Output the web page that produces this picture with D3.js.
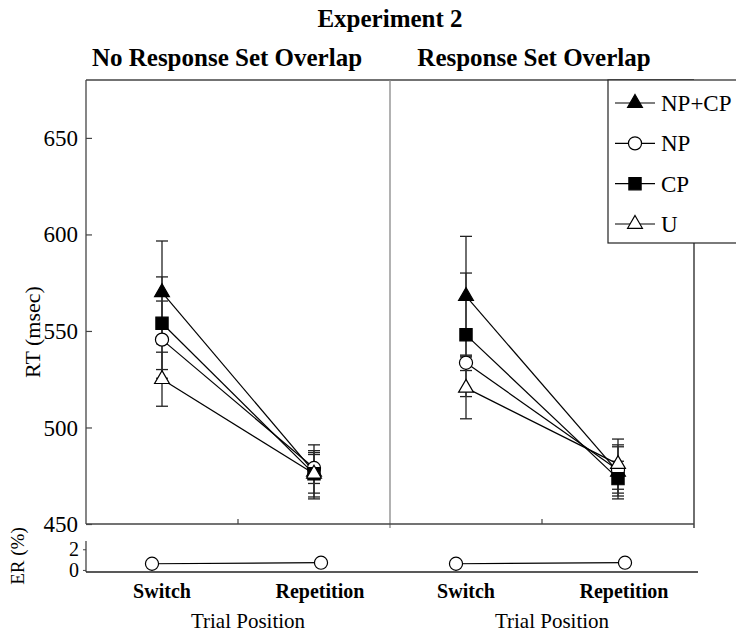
<!DOCTYPE html>
<html>
<head>
<meta charset="utf-8">
<script src="https://cdn.jsdelivr.net/npm/d3@7"></script>
<style>
  html, body { margin: 0; padding: 0; background: #fff; }
  svg { display: block; font-family: "Liberation Serif", "Times New Roman", serif; }
</style>
</head>
<body>
<svg id="chart" width="736" height="635"></svg>
<script>
// ---------- data ----------
const title = "Experiment 2";
const panelTitles = ["No Response Set Overlap", "Response Set Overlap"];
const positions = ["Switch", "Repetition"];
const seriesNames = ["NP+CP", "NP", "CP", "U"];
const seriesSymbols = ["triangle", "circle", "square", "triangle"];
const seriesFilled = [true, false, true, false];

// RT means (msec), order = seriesNames
const rtNoOverlapSwitch = [570, 545.5, 554, 525];
const rtNoOverlapRep    = [477, 479, 476, 476];
const seNoOverlapSwitch = [26.6, 20, 24, 14];
const seNoOverlapRep    = [14, 8, 12, 10];

const rtOverlapSwitch = [568, 533.5, 548, 520.5];
const rtOverlapRep    = [477, 478, 473.5, 481];
const seOverlapSwitch = [31, 4, 32, 16];
const seOverlapRep    = [14, 12, 9, 13];

// Error rates (%)
const erNoOverlap = [0.6, 0.7];
const erOverlap   = [0.6, 0.7];

const rtTicks = [450, 500, 550, 600, 650];
const erTicks = [0, 2];

// ---------- layout ----------
const svg = d3.select("#chart");
const L = 86, R = 694, T = 80, B = 524;
const mid = (L + R) / 2;
const panelW = (R - L) / 2;
const frameCol = "#444";

const y = d3.scaleLinear().domain([450, 680]).range([B, T]);
const yER = d3.scaleLinear().domain([-0.2, 2.8]).range([572, 541]);
const panelX = d3.scaleBand().domain(panelTitles).range([L, R]);
const xIn = d3.scalePoint().domain(positions).range([panelW * 0.25, panelW * 0.75]);
const xER = d3.scalePoint().domain(positions).range([66, 235]);

// titles
svg.append("text").attr("x", 390).attr("y", 27).attr("text-anchor", "middle")
  .attr("font-weight", "bold").attr("font-size", 25).text(title);
panelTitles.forEach((t, i) => {
  svg.append("text").attr("x", [227, 534][i]).attr("y", 66).attr("text-anchor", "middle")
    .attr("font-weight", "bold").attr("font-size", 25).text(t);
});

// frame
svg.append("line").attr("x1", L).attr("x2", R).attr("y1", T).attr("y2", T)
  .attr("stroke", frameCol).attr("stroke-width", 1.3);
svg.append("line").attr("x1", R).attr("x2", R).attr("y1", T).attr("y2", B + 4)
  .attr("stroke", "#222").attr("stroke-width", 1.3);
svg.append("line").attr("x1", mid).attr("x2", mid).attr("y1", T).attr("y2", B + 4)
  .attr("stroke", "#888").attr("stroke-width", 1.3);
svg.append("line").attr("x1", L).attr("x2", R).attr("y1", B).attr("y2", B)
  .attr("stroke", frameCol).attr("stroke-width", 1.5);
// bottom inner ticks at panel middles
panelTitles.forEach(p => {
  const cx = panelX(p) + panelW / 2;
  svg.append("line").attr("x1", cx).attr("x2", cx).attr("y1", B).attr("y2", B - 5)
    .attr("stroke", frameCol).attr("stroke-width", 1.2);
});

// y axis (RT)
const yAxis = d3.axisRight(y).tickValues(rtTicks).tickSize(6).tickFormat("");
const gy = svg.append("g").attr("transform", `translate(${L},0)`).call(yAxis);
gy.select(".domain").attr("stroke", frameCol).attr("stroke-width", 1.3).attr("d", `M0,${B}V${T}`);
gy.selectAll(".tick line").attr("stroke", frameCol).attr("stroke-width", 1.2);
rtTicks.forEach(v => {
  svg.append("text").attr("x", 78).attr("y", y(v)).attr("dy", "0.35em")
    .attr("text-anchor", "end").attr("font-size", 23).text(v);
});
svg.append("text").attr("transform", `translate(40,332) rotate(-90)`)
  .attr("text-anchor", "middle").attr("font-size", 22).text("RT (msec)");

// ER axis
const gER = svg.append("g").attr("transform", `translate(${L},0)`)
  .call(d3.axisLeft(yER).tickValues(erTicks).tickSize(3).tickFormat(""));
gER.select(".domain").attr("stroke", frameCol).attr("stroke-width", 1.3).attr("d", `M0,541V572`);
gER.selectAll(".tick line").attr("stroke", frameCol);
erTicks.forEach(v => {
  svg.append("text").attr("x", 79).attr("y", yER(v)).attr("dy", "0.33em")
    .attr("text-anchor", "end").attr("font-size", 20).text(v);
});
svg.append("line").attr("x1", L).attr("x2", 698).attr("y1", 572).attr("y2", 572)
  .attr("stroke", "#222").attr("stroke-width", 1.3);
svg.append("text").attr("transform", `translate(24,556) rotate(-90)`)
  .attr("text-anchor", "middle").attr("font-size", 19).text("ER (%)");

// x labels
panelTitles.forEach(p => {
  positions.forEach(pos => {
    svg.append("text").attr("x", panelX(p) + xIn(pos) + (pos === "Repetition" ? 6 : 0)).attr("y", 598)
      .attr("text-anchor", "middle").attr("font-weight", "bold").attr("font-size", 20).text(pos);
  });
  svg.append("text").attr("x", panelX(p) + panelW / 2 + 10).attr("y", 628)
    .attr("text-anchor", "middle").attr("font-size", 21).text("Trial Position");
});

// symbol helper
function symPath(kind) {
  if (kind === "triangle") return d3.symbol().type(d3.symbolTriangle).size(95)();
  if (kind === "square") return d3.symbol().type(d3.symbolSquare).size(150)();
  return d3.symbol().type(d3.symbolCircle).size(135)();
}

// panels data
const panelData = [
  { name: panelTitles[0], sw: rtNoOverlapSwitch, rep: rtNoOverlapRep, seSw: seNoOverlapSwitch, seRep: seNoOverlapRep, er: erNoOverlap },
  { name: panelTitles[1], sw: rtOverlapSwitch, rep: rtOverlapRep, seSw: seOverlapSwitch, seRep: seOverlapRep, er: erOverlap }
];

panelData.forEach(pd => {
  const g = svg.append("g").attr("transform", `translate(${panelX(pd.name)},0)`);
  // error bars
  seriesNames.forEach((s, i) => {
    [["Switch", pd.sw[i], pd.seSw[i]], ["Repetition", pd.rep[i], pd.seRep[i]]].forEach(([pos, m, se]) => {
      const cx = xIn(pos);
      g.append("line").attr("x1", cx).attr("x2", cx).attr("y1", y(m - se)).attr("y2", y(m + se))
        .attr("stroke", "#333").attr("stroke-width", 1.4);
      [m - se, m + se].forEach(v => {
        g.append("line").attr("x1", cx - 6).attr("x2", cx + 6).attr("y1", y(v)).attr("y2", y(v))
          .attr("stroke", "#222").attr("stroke-width", 1.3);
      });
    });
  });
  // connecting lines
  seriesNames.forEach((s, i) => {
    g.append("line").attr("x1", xIn("Switch")).attr("y1", y(pd.sw[i]))
      .attr("x2", xIn("Repetition")).attr("y2", y(pd.rep[i]))
      .attr("stroke", "#000").attr("stroke-width", 1.2);
  });
  // markers
  seriesNames.forEach((s, i) => {
    [["Switch", pd.sw[i]], ["Repetition", pd.rep[i]]].forEach(([pos, m]) => {
      g.append("path").attr("d", symPath(seriesSymbols[i]))
        .attr("transform", `translate(${xIn(pos)},${y(m)})`)
        .attr("fill", seriesFilled[i] ? "#000" : "#fff")
        .attr("stroke", "#000").attr("stroke-width", 1.2);
    });
  });
  // ER
  g.append("line").attr("x1", xER("Switch")).attr("y1", yER(pd.er[0]))
    .attr("x2", xER("Repetition")).attr("y2", yER(pd.er[1]))
    .attr("stroke", "#000").attr("stroke-width", 1.2);
  positions.forEach((pos, j) => {
    g.append("path").attr("d", symPath("circle"))
      .attr("transform", `translate(${xER(pos)},${yER(pd.er[j])})`)
      .attr("fill", "#fff").attr("stroke", "#000").attr("stroke-width", 1.2);
  });
});

// legend
const lg = svg.append("g");
lg.append("rect").attr("x", 608).attr("y", 80).attr("width", 140).attr("height", 163)
  .attr("fill", "#fff").attr("stroke", "#222").attr("stroke-width", 1.2);
const legY = d3.scalePoint().domain(seriesNames).range([103, 224]);
seriesNames.forEach((s, i) => {
  const yy = legY(s);
  lg.append("line").attr("x1", 615).attr("x2", 655).attr("y1", yy).attr("y2", yy)
    .attr("stroke", "#000").attr("stroke-width", 1.2);
  lg.append("path").attr("d", symPath(seriesSymbols[i]))
    .attr("transform", `translate(635,${yy})`)
    .attr("fill", seriesFilled[i] ? "#000" : "#fff")
    .attr("stroke", "#000").attr("stroke-width", 1.2);
  lg.append("text").attr("x", 661).attr("y", yy).attr("dy", "0.35em")
    .attr("font-size", 23).text(s);
});
</script>
</body>
</html>
